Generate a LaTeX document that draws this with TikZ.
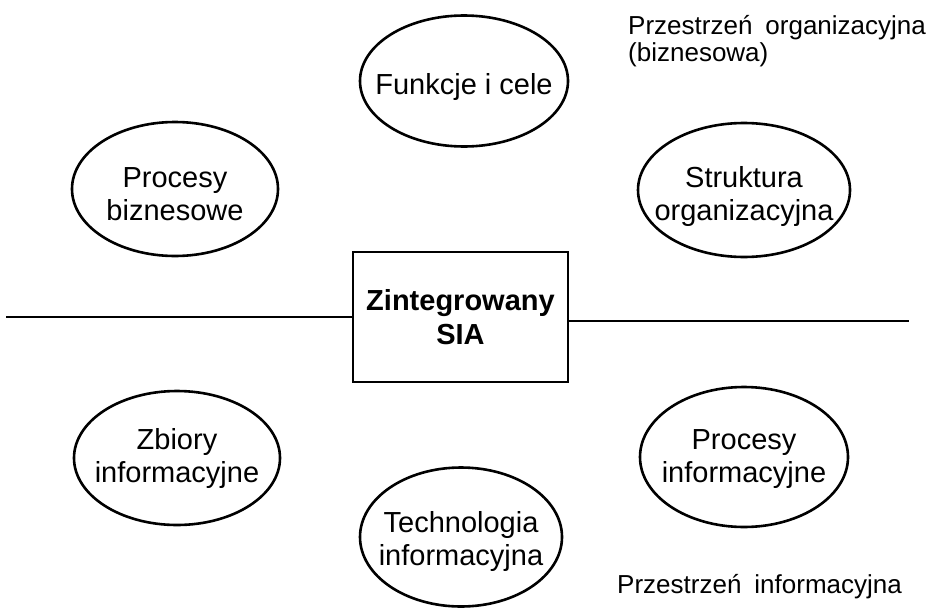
\documentclass[tikz,border=0pt]{standalone}
\usepackage{fontspec}
\setmainfont{Liberation Sans}
\usetikzlibrary{shapes.geometric}
\begin{document}
\begin{tikzpicture}[x=1pt,y=-1pt,
  oval/.style={draw, ellipse, line width=2.6pt, minimum width=206pt, minimum height=134pt, inner sep=0pt},
  ovaltext/.style={align=center, font=\fontsize{29}{33}\selectfont, inner sep=0pt},
  sia/.style={draw, rectangle, line width=2.6pt, minimum width=215pt, minimum height=130pt, align=center, inner sep=0pt, font=\bfseries\fontsize{29}{34}\selectfont},
  lbl/.style={anchor=base west, font=\fontsize{26}{28}\selectfont, inner sep=0pt},
  sep/.style={line width=2.6pt}]
\useasboundingbox (0,0) rectangle (933,610);
\node[oval, minimum width=208pt, minimum height=131pt, label={[ovaltext, yshift=-6pt]center:Funkcje i cele}] (f) at (464,81) {};
\node[oval, label={[ovaltext, yshift=-5pt]center:Procesy\\biznesowe}] (pb) at (175,189) {};
\node[oval, minimum width=212pt, label={[ovaltext, yshift=-6pt]center:Struktura\\organizacyjna}] (so) at (744,190) {};
\node[sia] (z) at (460.5,317) {Zintegrowany\\SIA};
\node[oval, label={[ovaltext]center:Zbiory\\informacyjne}] (zi) at (177,458) {};
\node[oval, minimum width=208pt, minimum height=140pt, label={[ovaltext, yshift=-2pt]center:Procesy\\informacyjne}] (pi) at (744,457) {};
\node[oval, minimum width=202pt, minimum height=139pt, label={[ovaltext, yshift=-4pt]center:Technologia\\informacyjna}] (ti) at (461,537) {};
\node[lbl] (po1) at (628,35) {Przestrzeń\hspace{0.5em}organizacyjna};
\node[lbl] (po2) at (628,62) {(biznesowa)};
\node[lbl] (pin) at (617,593) {Przestrzeń\hspace{0.5em}informacyjna};
\coordinate (L) at (6,317);
\coordinate (R) at (909,321);
\draw[sep] (L) -- (z.west);
\draw[sep] (z.east |- R) -- (R);
\end{tikzpicture}
\end{document}
